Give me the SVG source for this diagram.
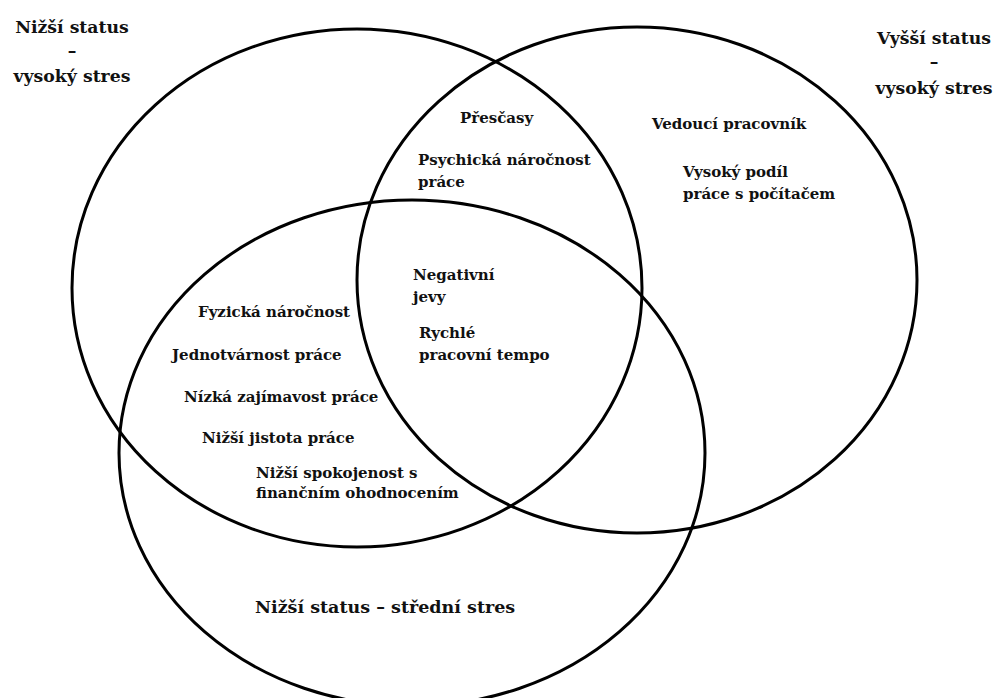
<svg xmlns="http://www.w3.org/2000/svg" width="998" height="698" viewBox="0 0 998 698">
<style>
.c{fill:none;stroke:#000;stroke-width:3}
text{font-family:"DejaVu Serif","Liberation Serif",serif;font-weight:bold;fill:#111}
.t{font-size:15px}
.h{font-size:17.3px;text-anchor:middle}
.b{font-size:17.5px}
</style>
<rect width="998" height="698" fill="#fff"/>
<g id="connectors">
<ellipse id="e-left" class="c" cx="357" cy="288" rx="285" ry="259"/>
<ellipse id="e-right" class="c" cx="637" cy="280" rx="280" ry="253"/>
<ellipse id="e-bottom" class="c" cx="412" cy="453" rx="293" ry="253"/>
</g>
<g id="label-left">
<text class="h" x="72" y="33">Nižší status</text>
<text class="h" x="72" y="57">–</text>
<text class="h" x="72" y="82">vysoký stres</text>
</g>
<g id="label-right">
<text class="h" x="934" y="44">Vyšší status</text>
<text class="h" x="934" y="68">–</text>
<text class="h" x="934" y="94">vysoký stres</text>
</g>
<g id="label-bottom">
<text class="b" x="255" y="613">Nižší status – střední stres</text>
</g>
<g id="left-right">
<text class="t" x="460" y="123">Přesčasy</text>
<text class="t" x="418" y="165">Psychická náročnost</text>
<text class="t" x="418" y="187">práce</text>
</g>
<g id="right-only">
<text class="t" x="652" y="129">Vedoucí pracovník</text>
<text class="t" x="683" y="177">Vysoký podíl</text>
<text class="t" x="683" y="199">práce s počítačem</text>
</g>
<g id="center">
<text class="t" x="413" y="280">Negativní</text>
<text class="t" x="413" y="302">jevy</text>
<text class="t" x="419" y="338">Rychlé</text>
<text class="t" x="419" y="360">pracovní tempo</text>
</g>
<g id="left-bottom">
<text class="t" x="198" y="317">Fyzická náročnost</text>
<text class="t" x="172" y="360">Jednotvárnost práce</text>
<text class="t" x="184" y="402">Nízká zajímavost práce</text>
<text class="t" x="202" y="443">Nižší jistota práce</text>
<text class="t" x="256" y="478">Nižší spokojenost s</text>
<text class="t" x="256" y="498">finančním ohodnocením</text>
</g>
</svg>
